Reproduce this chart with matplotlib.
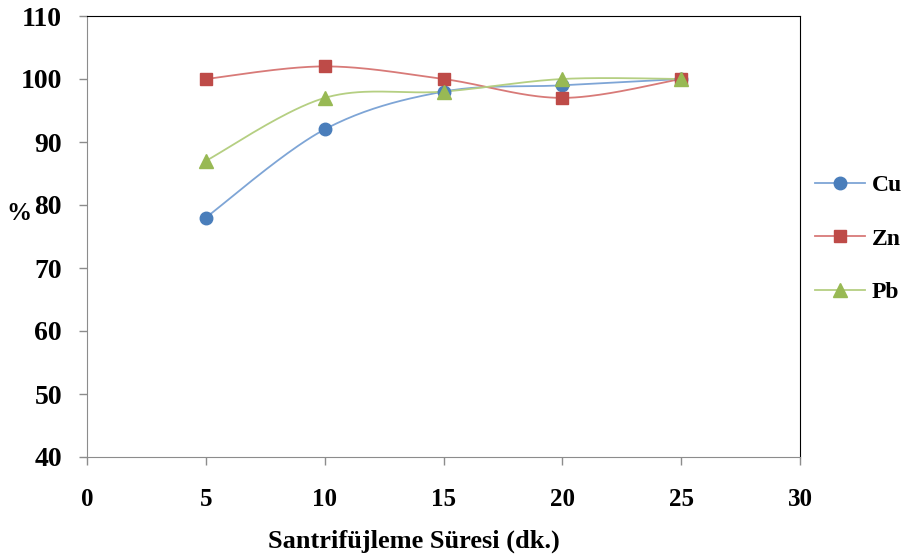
import numpy as np
import matplotlib
matplotlib.use("Agg")
import matplotlib.pyplot as plt
from matplotlib.lines import Line2D

# values
sure = [5, 10, 15, 20, 25]
cu = [78, 92, 98, 99, 100]
zn = [100, 102, 100, 97, 100]
pb = [87, 97, 98, 100, 100]

x_ticks = [0, 5, 10, 15, 20, 25, 30]
y_ticks = [40, 50, 60, 70, 80, 90, 100, 110]

series = [
    ("Cu", cu, "#4a7ebb", "#7ea5d6", "o", 9),
    ("Zn", zn, "#be4b48", "#d87a78", "s", 9),
    ("Pb", pb, "#98b954", "#b5cf82", "^", 10),
]


def smooth(xs, ys, n=40):
    # excel-like smoothed line: cubic bezier with catmull-rom control points
    p = np.column_stack([xs, ys]).astype(float)
    pts = np.vstack([p[0], p, p[-1]])
    out = []
    for i in range(1, len(pts) - 2):
        p0, p1, p2, p3 = pts[i - 1], pts[i], pts[i + 1], pts[i + 2]
        c1 = p1 + (p2 - p0) / 6.0
        c2 = p2 - (p3 - p1) / 6.0
        t = np.linspace(0, 1, n)[:, None]
        seg = ((1 - t) ** 3) * p1 + 3 * ((1 - t) ** 2) * t * c1 + 3 * (1 - t) * t ** 2 * c2 + t ** 3 * p2
        out.append(seg)
    out = np.vstack(out)
    return out[:, 0], out[:, 1]


plt.rcParams['font.family'] = ['Liberation Serif', 'DejaVu Serif']
plt.rcParams['font.weight'] = 'bold'

fig = plt.figure(figsize=(9.09, 5.58), dpi=100)
ax = fig.add_axes([87 / 909, 1 - 457 / 558, (800 - 87) / 909, (457 - 16) / 558])

handles = []
for name, vals, col, lcol, mk, ms in series:
    sx, sy = smooth(sure, vals)
    ax.plot(sx, sy, color=lcol, lw=1.3, zorder=2)
    ax.plot(sure, vals, linestyle="none", marker=mk, markersize=ms, color=col, zorder=3)
    handles.append(Line2D([0], [0], color=lcol, lw=1.3, marker=mk, markersize=ms,
                          markerfacecolor=col, markeredgecolor=col))

ax.set_xlim(0, 30)
ax.set_ylim(40, 110)
ax.set_xticks(x_ticks)
ax.set_yticks(y_ticks)
ax.tick_params(axis="both", colors="#8c8c8c", length=6, width=1, labelcolor="black")
ax.tick_params(axis="x", pad=16, labelsize=18)
ax.tick_params(axis="y", pad=12, labelsize=20)

ax.spines["left"].set_color("#8c8c8c")
ax.spines["bottom"].set_color("#8c8c8c")
ax.spines["top"].set_color("black")
ax.spines["right"].set_color("black")

ax.set_xlabel("Santrifüjleme Süresi (dk.)", fontsize=19, fontweight="bold", va="center")
ax.xaxis.set_label_coords(0.459, -0.19)
ax.set_ylabel("%", fontsize=18, fontweight="bold", rotation=0, va="center", ha="center")
ax.yaxis.set_label_coords(-0.095, 0.553)

fig.legend(handles, [s[0] for s in series], loc="center left", bbox_to_anchor=(815 / 909, 1 - 239 / 558),
           frameon=False, fontsize=17, handlelength=2.1, labelspacing=1.35, handletextpad=0.3,
           borderaxespad=0, borderpad=0)

fig.savefig("out.png", dpi=100)
